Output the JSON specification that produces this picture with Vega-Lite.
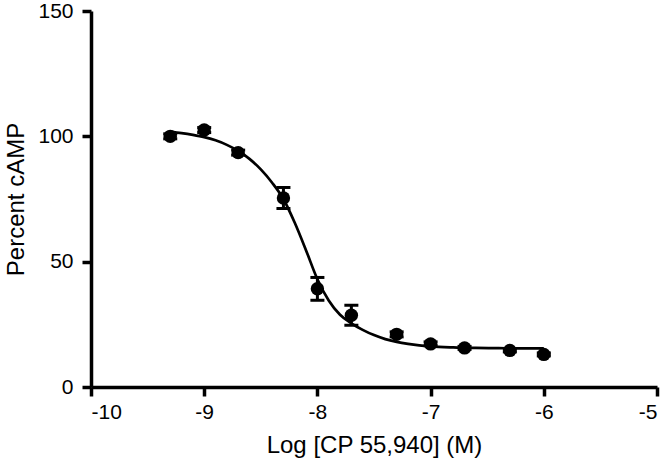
{
  "$schema": "https://vega.github.io/schema/vega-lite/v6.json",
  "autosize": "none",
  "width": 566,
  "height": 376,
  "padding": {"left": 91, "top": 11, "right": 9, "bottom": 80},
  "background": "white",
  "config": {
    "view": {"stroke": null},
    "font": "Liberation Sans",
    "axis": {
      "grid": false,
      "labelColor": "black",
      "labelFont": "Liberation Sans",
      "labelFontSize": 21,
      "labelExpr": "datum.value + ''",
      "titleColor": "black",
      "titleFont": "Liberation Sans",
      "titleFontSize": 24,
      "titleFontWeight": "normal"
    }
  },
  "datasets": {
    "points": [
      {"logc": -9.3, "pct": 100.0, "lo": 99.0, "hi": 101.0},
      {"logc": -9.0, "pct": 102.5, "lo": 101.5, "hi": 103.5},
      {"logc": -8.7, "pct": 93.5, "lo": 92.5, "hi": 94.5},
      {"logc": -8.3, "pct": 75.4, "lo": 71.2, "hi": 79.6},
      {"logc": -8.0, "pct": 39.2, "lo": 34.6, "hi": 43.7},
      {"logc": -7.7, "pct": 28.6, "lo": 24.6, "hi": 32.6},
      {"logc": -7.3, "pct": 21.0, "lo": 20.0, "hi": 22.0},
      {"logc": -7.0, "pct": 17.2, "lo": 16.5, "hi": 18.0},
      {"logc": -6.7, "pct": 15.6, "lo": 15.0, "hi": 16.2},
      {"logc": -6.3, "pct": 14.6, "lo": 14.0, "hi": 15.2},
      {"logc": -6.0, "pct": 13.0, "lo": 12.4, "hi": 13.6}
    ],
    "curve": [
      {"logc": -9.3, "pct": 101.8},
      {"logc": -9.2, "pct": 101.3},
      {"logc": -9.1, "pct": 100.6},
      {"logc": -9.0, "pct": 99.7},
      {"logc": -8.9, "pct": 98.4},
      {"logc": -8.8, "pct": 96.6},
      {"logc": -8.7, "pct": 94.2},
      {"logc": -8.6, "pct": 91.0},
      {"logc": -8.5, "pct": 86.8},
      {"logc": -8.4, "pct": 81.5},
      {"logc": -8.3, "pct": 75.0},
      {"logc": -8.2, "pct": 65.5},
      {"logc": -8.1, "pct": 54.5},
      {"logc": -8.0, "pct": 43.0},
      {"logc": -7.9, "pct": 34.5},
      {"logc": -7.8, "pct": 28.8},
      {"logc": -7.7, "pct": 25.4},
      {"logc": -7.6, "pct": 22.8},
      {"logc": -7.5, "pct": 20.7},
      {"logc": -7.4, "pct": 19.1},
      {"logc": -7.3, "pct": 18.0},
      {"logc": -7.2, "pct": 17.2},
      {"logc": -7.1, "pct": 16.6},
      {"logc": -7.0, "pct": 16.2},
      {"logc": -6.8, "pct": 15.8},
      {"logc": -6.6, "pct": 15.6},
      {"logc": -6.4, "pct": 15.5},
      {"logc": -6.2, "pct": 15.4},
      {"logc": -6.0, "pct": 15.4}
    ]
  },
  "encoding": {
    "x": {
      "field": "logc",
      "type": "quantitative",
      "scale": {"domain": [-10, -5], "nice": false, "zero": false},
      "axis": {"title": "Log [CP 55,940] (M)", "values": [-10, -9, -8, -7, -6, -5], "labelPadding": 5, "titlePadding": 11,
        "domainColor": "#000000", "domainWidth": 3.5, "tickColor": "#000000", "tickWidth": 3.5, "tickSize": 9}
    },
    "y": {
      "field": "pct",
      "type": "quantitative",
      "scale": {"domain": [0, 150], "nice": false},
      "axis": {"title": "Percent cAMP", "values": [0, 50, 100, 150], "labelPadding": 9, "titlePadding": 9,
        "domainColor": "#000000", "domainWidth": 3.5, "tickColor": "#000000", "tickWidth": 3.5, "tickSize": 9}
    }
  },
  "layer": [
    {
      "data": {"name": "curve"},
      "mark": {"type": "line", "color": "black", "strokeWidth": 2.7, "interpolate": "monotone"}
    },
    {
      "data": {"name": "points"},
      "mark": {"type": "rule", "color": "black", "strokeWidth": 3},
      "encoding": {"y": {"field": "lo", "type": "quantitative"}, "y2": {"field": "hi"}}
    },
    {
      "data": {"name": "points"},
      "mark": {"type": "tick", "color": "black", "opacity": 1, "orient": "horizontal", "size": 14, "thickness": 3},
      "encoding": {"y": {"field": "lo", "type": "quantitative"}}
    },
    {
      "data": {"name": "points"},
      "mark": {"type": "tick", "color": "black", "opacity": 1, "orient": "horizontal", "size": 14, "thickness": 3},
      "encoding": {"y": {"field": "hi", "type": "quantitative"}}
    },
    {
      "data": {"name": "points"},
      "mark": {"type": "point", "shape": "circle", "filled": true, "color": "black", "opacity": 1, "size": 180}
    }
  ]
}
